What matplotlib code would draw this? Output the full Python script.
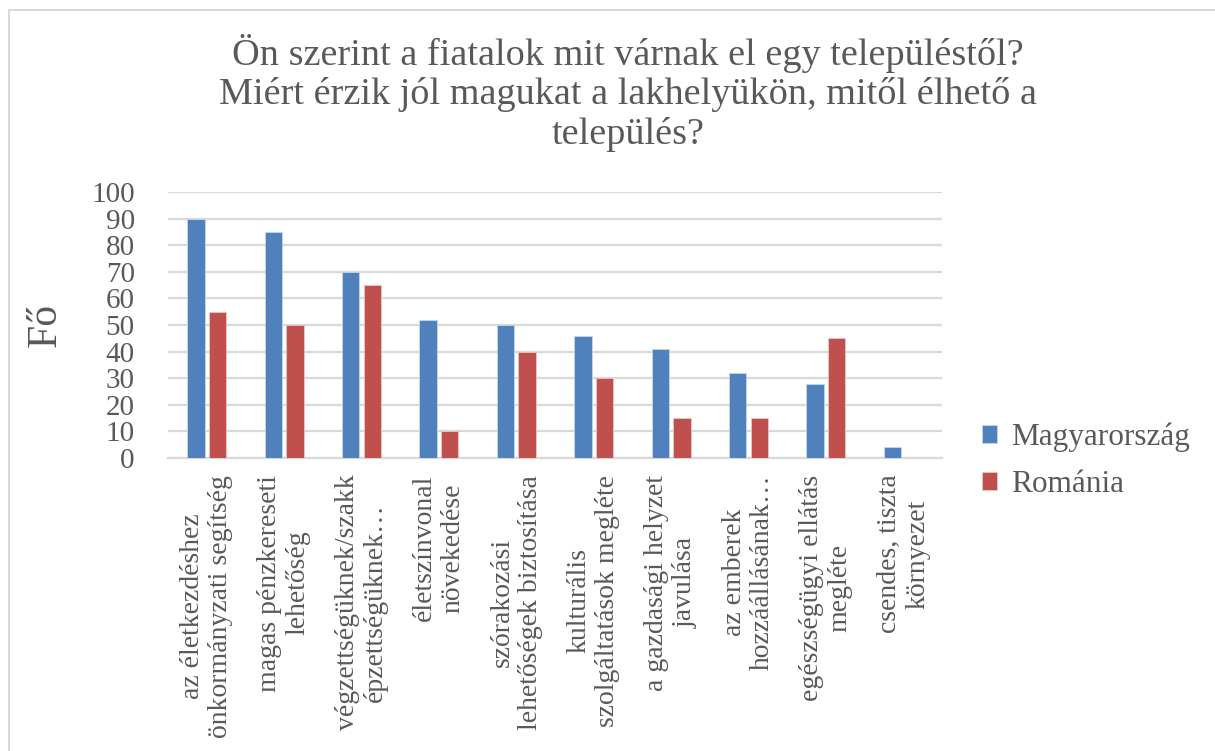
import matplotlib
matplotlib.use("Agg")
import matplotlib.pyplot as plt
import numpy as np
from matplotlib.patches import Rectangle

# Data
categories = [
    "az életkezdéshez\nönkormányzati segítség",
    "magas pénzkereseti\nlehetőség",
    "végzettségüknek/szakk\népzettségüknek…",
    "életszínvonal\nnövekedése",
    "szórakozási\nlehetőségek biztosítása",
    "kulturális\nszolgáltatások megléte",
    "a gazdasági helyzet\njavulása",
    "az emberek\nhozzáállásának…",
    "egészségügyi ellátás\nmegléte",
    "csendes, tiszta\nkörnyezet",
]
magyarorszag = [90, 85, 70, 52, 50, 46, 41, 32, 28, 4]
romania = [55, 50, 65, 10, 40, 30, 15, 15, 45, 0]
series_names = ["Magyarország", "Románia"]
yticks = list(range(0, 101, 10))

title = ("Ön szerint a fiatalok mit várnak el egy településtől?\n"
         "Miért érzik jól magukat a lakhelyükön, mitől élhető a\n"
         "település?")

TEXT = "#595959"
GRID = "#d9d9d9"
BLUE = "#4f81bd"
RED = "#c0504d"
SERIF = ["Liberation Serif", "DejaVu Serif"]

plt.rcParams["font.family"] = SERIF

W, H = 1215, 751
fig = plt.figure(figsize=(W / 100, H / 100), dpi=100)

# chart frame
fig.patches.append(Rectangle((9 / W, -0.1), 1.2, 1 - 10 / H + 0.1,
                             transform=fig.transFigure, fill=False,
                             edgecolor=GRID, linewidth=1.5))

ax = fig.add_axes([168 / W, 1 - 458 / H, (942 - 168) / W, (458 - 192) / H])

x = np.arange(len(categories))
bw = 0.225
off = 0.14
ax.bar(x - off, magyarorszag, bw, color=BLUE, edgecolor="#c9d7ea",
       linewidth=0.6, label=series_names[0], zorder=3)
ax.bar(x + off, romania, bw, color=RED, edgecolor="#ecc7c6",
       linewidth=0.6, label=series_names[1], zorder=3)

ax.set_xlim(-0.5, len(categories) - 0.5)
ax.set_ylim(0, 100)
ax.set_yticks(yticks)
ax.set_yticklabels([str(v) for v in yticks], fontsize=21, color=TEXT)
ax.yaxis.grid(True, color=GRID, linewidth=1.6, zorder=0)
ax.set_axisbelow(True)
for s in ["top", "right", "left"]:
    ax.spines[s].set_visible(False)
ax.spines["bottom"].set_color(GRID)
ax.spines["bottom"].set_linewidth(1.6)
ax.tick_params(axis="both", length=0)
ax.tick_params(axis="y", pad=24)

ax.set_xticks(x)
ax.set_xticklabels(categories, rotation=90, fontsize=20, color=TEXT,
                   ha="center", va="top", multialignment="center",
                   linespacing=1.18)
ax.tick_params(axis="x", pad=12)

ax.set_ylabel("Fő", fontsize=30, color=TEXT)
ax.yaxis.set_label_coords(-103 / (942 - 168), 0.5)

fig.text(628 / W, 1 - 34 / H, title, ha="center", va="top",
         fontsize=27.5, color=TEXT, linespacing=1.16)

leg = fig.legend(loc="center left", bbox_to_anchor=(969 / W, 1 - 461 / H),
                 frameon=False, fontsize=22.5, handlelength=0.5,
                 handleheight=0.5, handletextpad=0.45, labelspacing=0.58,
                 borderaxespad=0)
for t in leg.get_texts():
    t.set_color(TEXT)

fig.savefig("out.png", dpi=100)
